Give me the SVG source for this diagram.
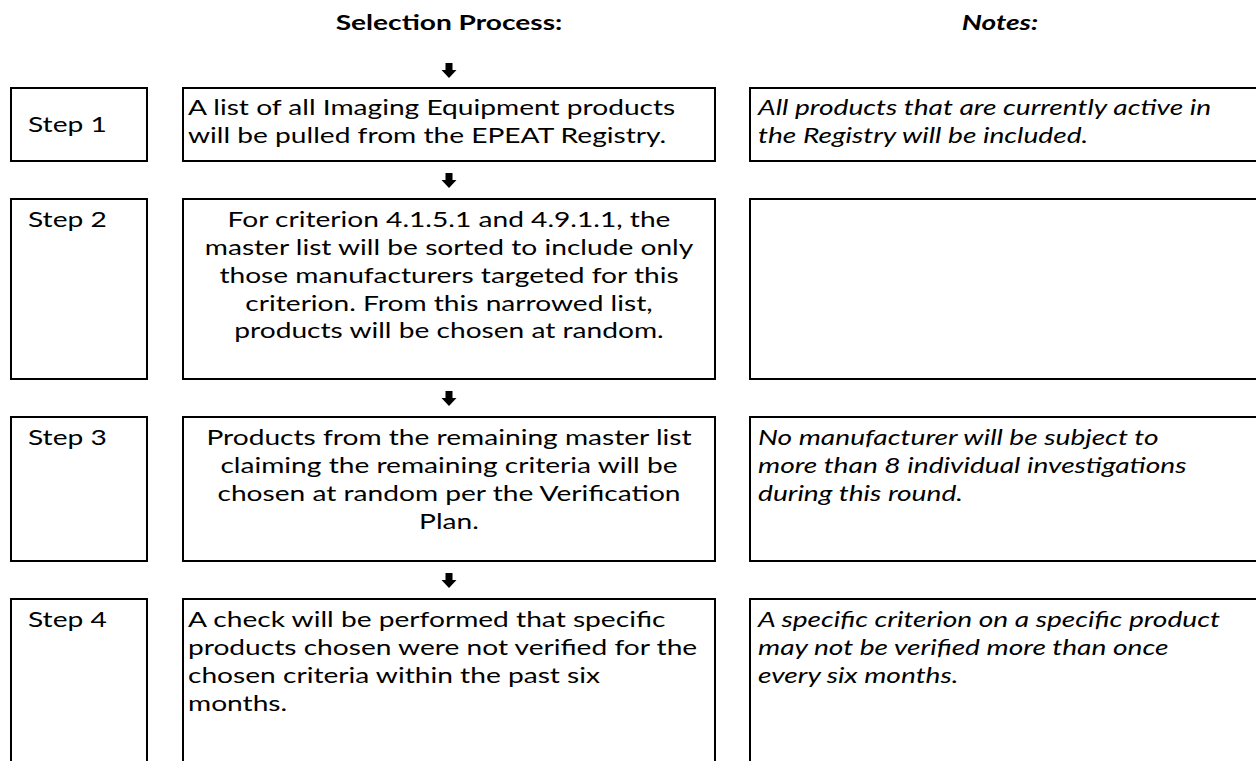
<svg xmlns="http://www.w3.org/2000/svg" xmlns:xlink="http://www.w3.org/1999/xlink" width="1256" height="761" viewBox="0 0 1256 761">
<style>
  .box{fill:#fff;stroke:#000;stroke-width:2}
  text{font-family:Lato,"Liberation Sans",sans-serif;font-size:21px;fill:#000}
  .hd{font-weight:bold}
  .it{font-style:italic}
  .c{text-anchor:middle}
</style>
<defs>
  <path id="arr" d="M-3.5,0 H3.5 V7 H7.5 L0,15 L-7.5,7 H-3.5 Z" fill="#000"/>
</defs>
<rect width="1256" height="761" fill="#fff"/>
<g id="headers">
  <text class="hd c" transform="translate(449 30) scale(1.34 1)">Selection Process:</text>
  <text class="hd it c" transform="translate(1000 30) scale(1.34 1)">Notes:</text>
</g>
<g id="connectors">
  <use xlink:href="#arr" x="449" y="63"/>
  <use xlink:href="#arr" x="449" y="173"/>
  <use xlink:href="#arr" x="449" y="391"/>
  <use xlink:href="#arr" x="449" y="573"/>
</g>
<g id="step1">
  <rect class="box" x="11" y="88" width="136" height="73"/>
  <text transform="translate(28 132) scale(1.34 1)">Step 1</text>
</g>
<g id="process1">
  <rect class="box" x="183" y="88" width="532" height="73"/>
  <text transform="translate(188 115) scale(1.34 1)">A list of all Imaging Equipment products</text>
  <text transform="translate(188 143) scale(1.34 1)">will be pulled from the EPEAT Registry.</text>
</g>
<g id="note1">
  <rect class="box" x="750" y="88" width="520" height="73"/>
  <text class="it" transform="translate(758 115) scale(1.34 1)">All products that are currently active in</text>
  <text class="it" transform="translate(758 143) scale(1.34 1)">the Registry will be included.</text>
</g>
<g id="step2">
  <rect class="box" x="11" y="199" width="136" height="180"/>
  <text transform="translate(28 227) scale(1.34 1)">Step 2</text>
</g>
<g id="process2">
  <rect class="box" x="183" y="199" width="532" height="180"/>
  <text class="c" transform="translate(449 227) scale(1.34 1)">For criterion 4.1.5.1 and 4.9.1.1, the</text>
  <text class="c" transform="translate(449 255) scale(1.34 1)">master list will be sorted to include only</text>
  <text class="c" transform="translate(449 283) scale(1.34 1)">those manufacturers targeted for this</text>
  <text class="c" transform="translate(449 311) scale(1.34 1)">criterion. From this narrowed list,</text>
  <text class="c" transform="translate(449 338) scale(1.34 1)">products will be chosen at random.</text>
</g>
<g id="note2">
  <rect class="box" x="750" y="199" width="520" height="180"/>
</g>
<g id="step3">
  <rect class="box" x="11" y="417" width="136" height="144"/>
  <text transform="translate(28 445) scale(1.34 1)">Step 3</text>
</g>
<g id="process3">
  <rect class="box" x="183" y="417" width="532" height="144"/>
  <text class="c" transform="translate(449 445) scale(1.34 1)">Products from the remaining master list</text>
  <text class="c" transform="translate(449 473) scale(1.34 1)">claiming the remaining criteria will be</text>
  <text class="c" transform="translate(449 501) scale(1.34 1)">chosen at random per the Verification</text>
  <text class="c" transform="translate(449 529) scale(1.34 1)">Plan.</text>
</g>
<g id="note3">
  <rect class="box" x="750" y="417" width="520" height="144"/>
  <text class="it" transform="translate(758 445) scale(1.34 1)">No manufacturer will be subject to</text>
  <text class="it" transform="translate(758 473) scale(1.34 1)">more than 8 individual investigations</text>
  <text class="it" transform="translate(758 501) scale(1.34 1)">during this round.</text>
</g>
<g id="step4">
  <rect class="box" x="11" y="599" width="136" height="180"/>
  <text transform="translate(28 627) scale(1.34 1)">Step 4</text>
</g>
<g id="process4">
  <rect class="box" x="183" y="599" width="532" height="180"/>
  <text transform="translate(188 627) scale(1.34 1)">A check will be performed that specific</text>
  <text transform="translate(188 655) scale(1.34 1)">products chosen were not verified for the</text>
  <text transform="translate(188 683) scale(1.34 1)">chosen criteria within the past six</text>
  <text transform="translate(188 711) scale(1.34 1)">months.</text>
</g>
<g id="note4">
  <rect class="box" x="750" y="599" width="520" height="180"/>
  <text class="it" transform="translate(758 627) scale(1.34 1)">A specific criterion on a specific product</text>
  <text class="it" transform="translate(758 655) scale(1.34 1)">may not be verified more than once</text>
  <text class="it" transform="translate(758 683) scale(1.34 1)">every six months.</text>
</g>
</svg>
